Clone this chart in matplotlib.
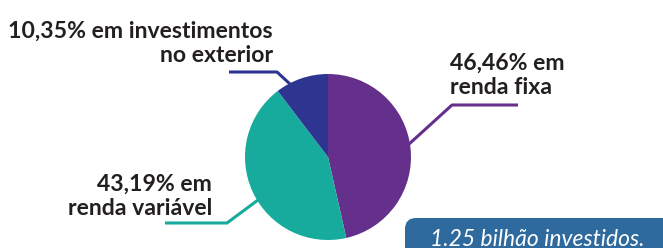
import matplotlib
matplotlib.use("Agg")
import matplotlib.pyplot as plt
from matplotlib.patches import FancyBboxPatch

# data
categories = ["renda fixa", "renda variável", "investimentos no exterior"]
shares = [46.46, 43.19, 10.35]
labels = ["46,46% em\nrenda fixa", "43,19% em\nrenda variável", "10,35% em investimentos\nno exterior"]
colors = ["#65308c", "#16ab9c", "#2e3591"]
total_note = "1.25 bilhão investidos."

W, H = 663, 248
TEXT = "#231f20"
plt.rcParams["font.family"] = ["Lato", "DejaVu Sans"]

fig = plt.figure(figsize=(W / 100, H / 100), dpi=100)
ax = fig.add_axes([0, 0, 1, 1])


def Y(y_img):
    # image row -> data y
    return H - y_img


ax.pie(shares, colors=colors, startangle=90, counterclock=False,
       center=(328, Y(157)), radius=83, frame=True,
       wedgeprops=dict(linewidth=0))

# leader lines (pie edge -> elbow -> end)
ax.plot([408, 452, 518], [Y(145), Y(105), Y(105)], color=colors[0], lw=2.2,
        solid_capstyle="butt")
ax.plot([258, 227, 165], [Y(200), Y(223), Y(223)], color=colors[1], lw=2.2,
        solid_capstyle="butt")
ax.plot([290, 277, 229], [Y(84), Y(72), Y(72)], color=colors[2], lw=2.2,
        solid_capstyle="butt")

kw = dict(fontsize=16.6, fontweight="bold", color=TEXT, linespacing=1.18)
ax.text(450, Y(94), labels[0], ha="left", va="baseline", **kw)
ax.text(212, Y(215), labels[1], ha="right", va="baseline", multialignment="right", **kw)
ax.text(273, Y(62), labels[2], ha="right", va="baseline", multialignment="right", **kw)

box = FancyBboxPatch((405, -20), 300, Y(218) + 20,
                     boxstyle="round,pad=0,rounding_size=11",
                     facecolor="#2e6a9e", edgecolor="none")
ax.add_patch(box)
ax.text(430, Y(246), total_note, ha="left", va="baseline", fontsize=16.5,
        style="italic", color="white")

ax.set_xlim(0, W)
ax.set_ylim(0, H)
ax.set_aspect("auto")
ax.axis("off")

fig.savefig("out.png", dpi=100)
